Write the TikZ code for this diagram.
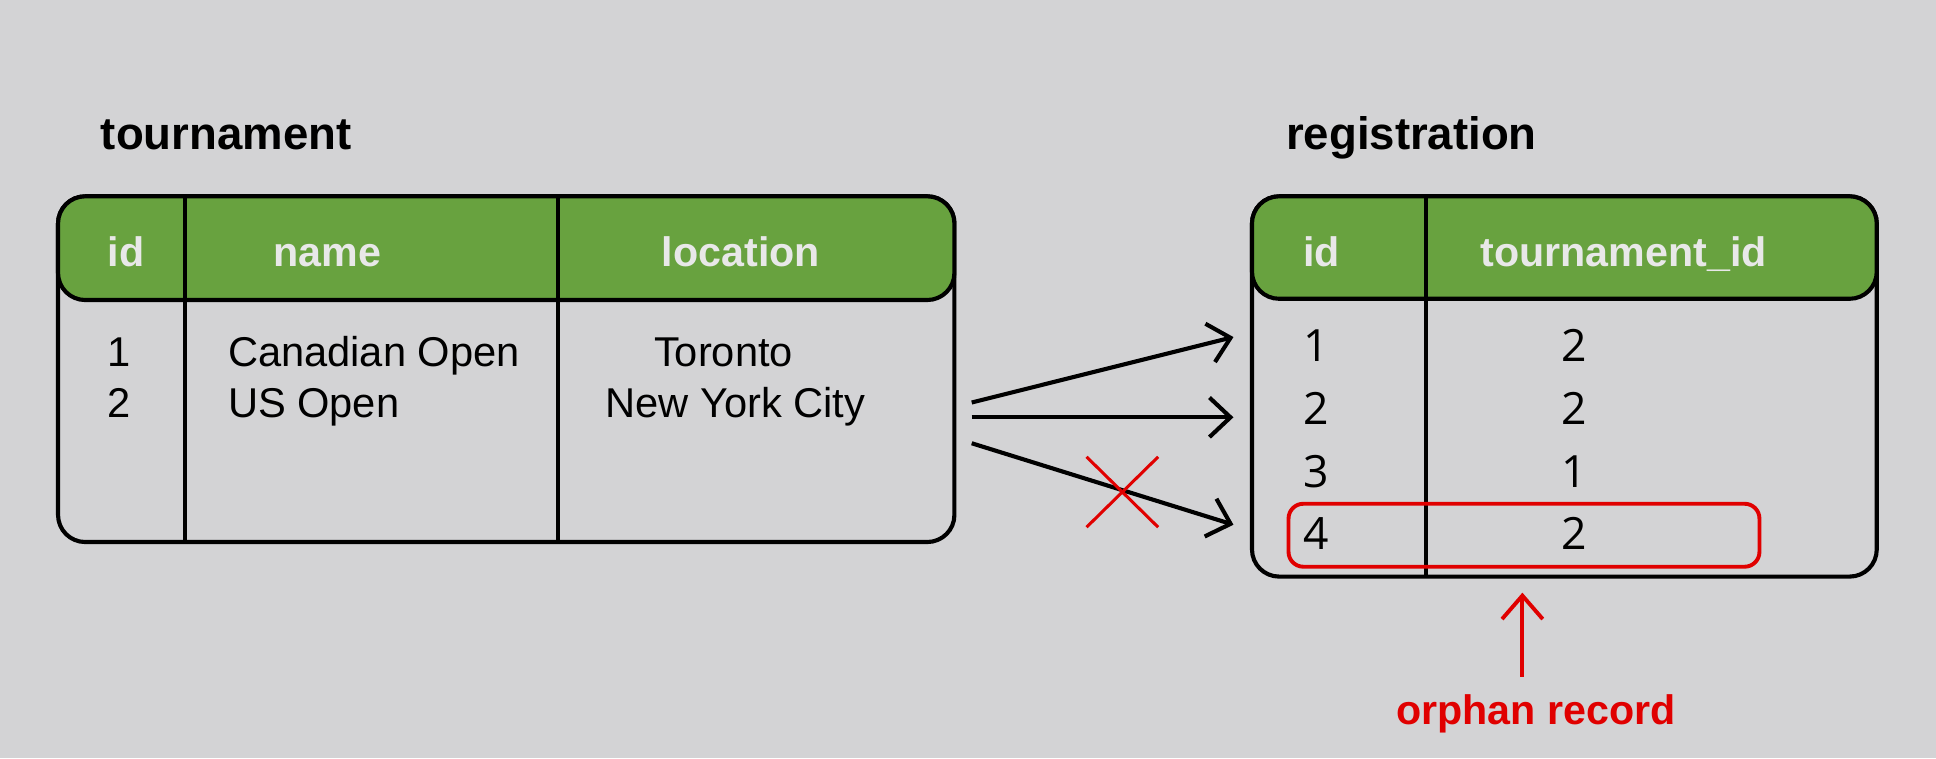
\documentclass[tikz,border=0pt]{standalone}
\usepackage{fontspec}
\setmainfont{Liberation Sans}
\newfontfamily\digitfont{Open Sans}
\usetikzlibrary{arrows.meta}
\definecolor{bgray}{HTML}{D3D3D5}
\definecolor{hdrgreen}{HTML}{68A23F}
\definecolor{hdrtxt}{HTML}{E8E8E8}
\definecolor{alertred}{HTML}{E00000}
\tikzset{
  tblline/.style={line width=1.9pt,rounded corners=0.44cm},
  hdrtext/.style={font=\fontsize{19}{23}\selectfont\bfseries,text=hdrtxt,anchor=base,inner sep=0pt},
  celltext/.style={font=\fontsize{19.2}{23}\selectfont,anchor=base,inner sep=0pt},
  numtext/.style={font=\digitfont\fontsize{20.5}{24}\selectfont,anchor=base,inner sep=0pt},
  tbltitle/.style={font=\fontsize{21}{25}\selectfont\bfseries,anchor=base west,inner sep=0pt},
  redline/.style={alertred,line width=1.8pt},
}

\begin{document}
\begin{tikzpicture}[x=0.02cm,y=-0.02cm,line width=1.9pt,
  >={Straight Barb[length=0.34cm,width=0.64cm]}]
  \fill[bgray] (0,0) rectangle (1568,614);
  \useasboundingbox (0,0) rectangle (1568,614);

  % tournament table
  \node[tbltitle] (tourTitle) at (80,121) {tournament};
  \draw[tblline] (47,159) rectangle (773,439);
  \draw[tblline,fill=hdrgreen] (47,159) rectangle (773,243);
  \draw (150,159)--(150,439);
  \draw (452,159)--(452,439);
  \node[hdrtext] (tId) at (102,216) {id};
  \node[hdrtext] (tName) at (265,216) {name};
  \node[hdrtext] (tLoc) at (600,216) {location};
  \node[celltext] (tId1) at (96.5,297) {1};
  \node[celltext] (tId2) at (96.5,338) {2};
  \node[celltext,anchor=base west] (tName1) at (183,297) {Canadian Open};
  \node[celltext,anchor=base west] (tName2) at (183,338) {US Open};
  \node[celltext] (tLoc1) at (586,297) {Toronto};
  \node[celltext] (tLoc2) at (595.5,338) {New York City};

  % registration table
  \node[tbltitle] (regTitle) at (1040,121) {registration};
  \draw[tblline] (1014,159) rectangle (1520,467);
  \draw[tblline,fill=hdrgreen] (1014,159) rectangle (1520,242);
  \draw (1155,159)--(1155,467);
  \node[hdrtext] (rId) at (1070.5,216) {id};
  \node[hdrtext] (rTid) at (1315,216) {tournament\_id};
  \foreach \i/\t/\y in {1/2/293,2/2/344,3/1/394.5,4/2/445}{
    \node[numtext] (rId\i) at (1066,\y) {\i};
    \node[numtext] (rTid\i) at (1275,\y) {\t};
  }

  % references
  \coordinate (src1) at (787,326);
  \coordinate (src2) at (787,338);
  \coordinate (src3) at (787,359);
  \coordinate (dst1) at (999,273);
  \coordinate (dst2) at (999,338);
  \coordinate (dst3) at (999,425);
  \draw[->] (src1)--(dst1);
  \draw[->] (src2)--(dst2);
  \draw[->] (src3)--(dst3);

  % broken link and orphan row
  \draw[redline,line width=1.4pt] (880,370)--(938,427);
  \draw[redline,line width=1.4pt] (938,370)--(880,427);
  \draw[redline,rounded corners=0.24cm] (1043.6,408) rectangle (1425,459);
  \node[tbltitle,anchor=base,text=alertred,font=\fontsize{19}{23}\selectfont\bfseries] (orphan) at (1244,587) {orphan record};
  \coordinate (orphTail) at (1233,548);
  \coordinate (orphHead) at (1233,480);
  \draw[redline,->,>={Straight Barb[length=0.38cm,width=0.66cm]}] (orphTail)--(orphHead);
\end{tikzpicture}
\end{document}
